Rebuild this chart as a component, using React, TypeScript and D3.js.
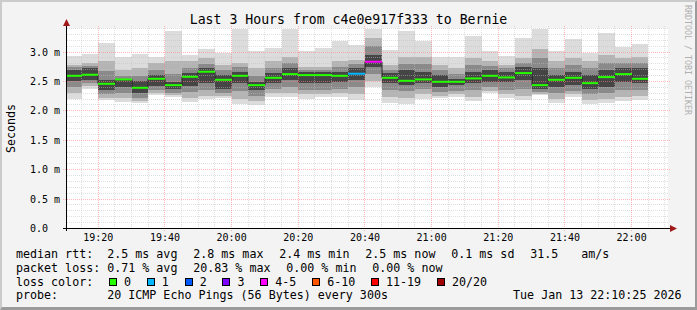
import React from "react";
import * as d3 from "d3";

// ---- data ----
const intervalEnds = ["19:15","19:20","19:25","19:30","19:35","19:40","19:45","19:50","19:55","20:00","20:05","20:10","20:15","20:20","20:25","20:30","20:35","20:40","20:45","20:50","20:55","21:00","21:05","21:10","21:15","21:20","21:25","21:30","21:35","21:40","21:45","21:50","21:55","22:00","22:05"];

// smoke band edges, ms (outer → inner)
const rttMax = [2.93,2.97,3.16,2.92,2.97,2.91,3.35,2.95,3.05,2.99,3.40,3.01,3.07,3.40,3.02,3.07,3.19,3.12,3.40,3.03,3.36,3.18,2.92,2.92,3.27,3.01,2.93,3.23,3.40,3.02,3.22,2.99,3.32,3.08,3.13];
const rttUpper2 = [2.78,2.81,2.84,2.69,2.72,2.81,2.84,2.84,2.89,2.78,2.81,2.72,2.84,2.92,2.75,2.75,2.84,2.86,3.23,2.78,2.92,2.92,2.78,2.72,2.89,2.84,2.78,2.89,3.06,2.84,2.89,2.84,2.95,2.89,2.92];
const rttUpper3 = [2.75,2.77,2.68,2.60,2.60,2.70,2.62,2.72,2.80,2.70,2.74,2.60,2.73,2.82,2.70,2.70,2.75,2.79,3.10,2.70,2.80,2.80,2.70,2.62,2.78,2.77,2.72,2.81,2.90,2.72,2.78,2.72,2.82,2.81,2.82];
const rttUpper4 = [2.70,2.72,2.53,2.55,2.50,2.61,2.49,2.64,2.72,2.61,2.665,2.49,2.64,2.72,2.665,2.665,2.665,2.72,2.95,2.64,2.69,2.665,2.61,2.55,2.665,2.69,2.665,2.75,2.72,2.61,2.665,2.61,2.69,2.72,2.72];
const rttMedian = [2.596,2.614,2.46,2.534,2.392,2.545,2.437,2.579,2.665,2.528,2.596,2.437,2.562,2.625,2.608,2.608,2.596,2.631,2.835,2.562,2.511,2.534,2.494,2.494,2.551,2.596,2.568,2.642,2.437,2.528,2.562,2.471,2.574,2.625,2.545];
const rttLower4 = [2.50,2.53,2.36,2.40,2.30,2.42,2.38,2.43,2.47,2.38,2.47,2.35,2.47,2.52,2.47,2.47,2.49,2.52,2.75,2.47,2.44,2.47,2.41,2.44,2.47,2.49,2.49,2.52,2.38,2.41,2.44,2.38,2.41,2.49,2.47];
const rttLower3 = [2.40,2.47,2.28,2.30,2.22,2.35,2.31,2.32,2.36,2.30,2.34,2.25,2.37,2.40,2.36,2.36,2.38,2.40,2.62,2.36,2.34,2.38,2.32,2.34,2.36,2.40,2.36,2.38,2.32,2.30,2.34,2.28,2.30,2.36,2.36];
const rttLower2 = [2.30,2.42,2.22,2.22,2.17,2.30,2.27,2.22,2.26,2.26,2.20,2.17,2.30,2.30,2.28,2.28,2.30,2.28,2.50,2.24,2.22,2.28,2.26,2.28,2.24,2.34,2.28,2.26,2.29,2.20,2.28,2.18,2.20,2.24,2.26];
const rttMin = [2.20,2.37,2.18,2.15,2.14,2.27,2.24,2.15,2.20,2.22,2.12,2.10,2.24,2.24,2.21,2.24,2.24,2.18,2.41,2.14,2.11,2.20,2.22,2.24,2.16,2.30,2.22,2.18,2.27,2.14,2.24,2.11,2.14,2.16,2.18];
const lossCounts = [0,0,0,0,0,0,0,0,0,0,0,0,0,0,0,0,0,1,4,0,0,0,0,0,0,0,0,0,0,0,0,0,0,0,0];

const lossLabels = ["0","1","2","3","4-5","6-10","11-19","20/20"];
const lossColors = ["#26ff00","#00b8ff","#0059ff","#7e00ff","#ff00ff","#ff5500","#ff0000","#a10000"];
const smokeColors = ["#dcdcdc","#b4b4b4","#8a8a8a","#454545"];

const yTickLabels = ["0.0","0.5 m","1.0 m","1.5 m","2.0 m","2.5 m","3.0 m"];
const yTickValues = [0,0.5,1.0,1.5,2.0,2.5,3.0];

const legendRow1 = ["median rtt:  2.5 ms avg","2.8 ms max","2.4 ms min","2.5 ms now","0.1 ms sd","31.5"," am/s"];
const legendRow2 = ["packet loss: 0.71 % avg","20.83 % max","0.00 % min","0.00 % now"];
const probeText = "probe:       20 ICMP Echo Pings (56 Bytes) every 300s";
const dateText = "Tue Jan 13 22:10:25 2026";
const titleText = "Last 3 Hours from c4e0e917f333 to Bernie";

// ---- layout ----
const W = 697, H = 310;
const PL = 67, PR = 667, PT = 28.5, PB = 228.5;
const MONO = "'DejaVu Sans Mono', monospace";
const LF = 11.66;
const CW = 7.02;
const GAP = 15.8;

function lossIndex(n: number) {
  if (n <= 3) return n;
  if (n <= 5) return 4;
  if (n <= 10) return 5;
  if (n <= 19) return 6;
  return 7;
}
const utc = (h: number, m: number, s = 0) => new Date(Date.UTC(2026, 0, 13, h, m, s));

function layoutRow(items: string[], x0: number) {
  let x = x0;
  return items.map((s) => {
    const r = { s, x };
    x += s.length * CW + GAP;
    return r;
  });
}

export default function App() {
  const x = d3.scaleUtc().domain([utc(19, 10, 37), utc(22, 10, 37)]).range([PL, PR]);
  const y = d3.scaleLinear().domain([0, 3.4]).range([PB, PT]);
  const crisp = (v: number) => Math.round(v - 0.5) + 0.5;

  const cols = intervalEnds.map((s, i) => {
    const [hh, mm] = s.split(":").map(Number);
    const end = utc(hh, mm);
    const start = new Date(end.getTime() - 5 * 60 * 1000);
    const x0 = Math.max(Math.round(x(start)), PL);
    const x1 = Math.round(x(end));
    return { i, x0, x1 };
  });

  const levels = [
    [rttMin, rttMax],
    [rttLower2, rttUpper2],
    [rttLower3, rttUpper3],
    [rttLower4, rttUpper4],
  ];

  const minorT = d3.utcMinute.every(5)!.range(utc(19, 11), utc(22, 11)).filter((t) => t.getUTCMinutes() % 20 !== 0);
  const majorT = d3.utcMinute.every(20)!.range(utc(19, 11), utc(22, 11));
  const minorV = d3.range(1, 35).map((k) => k / 10).filter((v, k) => (k + 1) % 5 !== 0);
  const majorV = [0.5, 1.0, 1.5, 2.0, 2.5, 3.0];
  const fmt = d3.utcFormat("%H:%M");

  const medPts: [number, number][] = [];
  cols.forEach((c) => {
    medPts.push([c.x0, y(rttMedian[c.i])]);
    medPts.push([c.x1, y(rttMedian[c.i])]);
  });
  const medLine = d3.line()(medPts) || "";

  const row1 = layoutRow(legendRow1, 16);
  const row2 = layoutRow(legendRow2, 16);

  const swatches: { label: string; color: string; sx: number; tx: number }[] = [];
  let cx = 16 + "loss color:".length * CW + GAP;
  lossLabels.forEach((l, k) => {
    swatches.push({ label: l, color: lossColors[k], sx: cx, tx: cx + 15 });
    cx = cx + 15 + l.length * CW + GAP;
  });

  const txt = { fontFamily: MONO, fontSize: LF, fill: "#000", whiteSpace: "pre" as const };

  return (
    <svg width={W} height={H} style={{ position: "absolute", left: 0, top: 0, display: "block" }}>
      <rect x={0} y={0} width={W} height={H} fill="#f3f3f3" />
      <polygon points={`0,0 ${W},0 ${W - 2},2 2,2 2,${H - 2} 0,${H}`} fill="#cbcbcb" />
      <polygon points={`${W},0 ${W},${H} 0,${H} 2,${H - 3} ${W - 2},${H - 3} ${W - 2},2`} fill="#9b9b9b" />

      <rect x={PL} y={PT - 0.5} width={PR - PL + 1} height={PB - PT + 0.5} fill="#ffffff" />

      {levels.map(([lo, hi], li) =>
        cols.map((c) => (
          <rect
            key={`s${li}-${c.i}`}
            x={c.x0}
            width={c.x1 - c.x0}
            y={Math.round(y(hi[c.i]))}
            height={Math.max(0, Math.round(y(lo[c.i])) - Math.round(y(hi[c.i])))}
            fill={smokeColors[li]}
            shapeRendering="crispEdges"
          />
        ))
      )}

      <g shapeRendering="crispEdges" strokeDasharray="1,1" strokeWidth={1}>
        {minorV.map((v) => (
          <line key={`hv${v}`} x1={PL} x2={PR + 1} y1={crisp(y(v))} y2={crisp(y(v))} stroke="#c0c0c0" strokeOpacity={0.5} />
        ))}
        {minorT.map((t) => (
          <line key={`vt${+t}`} x1={crisp(x(t))} x2={crisp(x(t))} y1={26} y2={PB} stroke="#c0c0c0" strokeOpacity={0.5} />
        ))}
        {majorV.map((v) => (
          <line key={`HV${v}`} x1={63} x2={PR + 3} y1={crisp(y(v))} y2={crisp(y(v))} stroke="#ff8080" strokeOpacity={0.55} />
        ))}
        {majorT.map((t) => (
          <line key={`VT${+t}`} x1={crisp(x(t))} x2={crisp(x(t))} y1={26} y2={PB + 3} stroke="#ff8080" strokeOpacity={0.55} />
        ))}
      </g>

      <path d={medLine} fill="none" stroke="#202020" strokeWidth={1} />
      {cols.map((c) => (
        <line
          key={`m${c.i}`}
          x1={c.x0}
          x2={c.x1}
          y1={y(rttMedian[c.i])}
          y2={y(rttMedian[c.i])}
          stroke={lossColors[lossIndex(lossCounts[c.i])]}
          strokeWidth={2}
        />
      ))}

      <line x1={62.5} x2={672} y1={PB} y2={PB} stroke="#000" strokeWidth={1} shapeRendering="crispEdges" />
      <line x1={66.5} x2={66.5} y1={231} y2={24} stroke="#000" strokeWidth={1} shapeRendering="crispEdges" />
      <polygon points={`670,${PB - 3.5} 677,${PB} 670,${PB + 3.5}`} fill="#a11a1a" />
      <polygon points={`${66.5 - 3.5},26 66.5,19 ${66.5 + 3.5},26`} fill="#a11a1a" />

      {yTickValues.map((v, k) => (
        <text key={`yl${k}`} x={30} y={y(v) + 3.6} style={{ fontFamily: MONO, fontSize: 10, whiteSpace: "pre" }} fill="#000">
          {yTickLabels[k]}
        </text>
      ))}
      {majorT.map((t) => (
        <text key={`xl${+t}`} x={x(t)} y={240.7} textAnchor="middle" style={{ fontFamily: MONO, fontSize: 10 }} fill="#000">
          {fmt(t)}
        </text>
      ))}

      <text x={348.5} y={24} textAnchor="middle" style={{ fontFamily: MONO, fontSize: 13.2 }} fill="#000">
        {titleText}
      </text>
      <text transform={`translate(14.5,128.5) rotate(-90)`} textAnchor="middle" style={{ fontFamily: MONO, fontSize: LF }} fill="#000">
        Seconds
      </text>
      <text transform={`translate(684.5,5) rotate(90)`} style={{ fontFamily: MONO, fontSize: 8.3 }} fill="#b0b0b0">
        RRDTOOL / TOBI OETIKER
      </text>

      {row1.map((r, k) => (
        <text key={`r1${k}`} x={r.x} y={257.5} style={txt}>{r.s}</text>
      ))}
      {row2.map((r, k) => (
        <text key={`r2${k}`} x={r.x} y={271.5} style={txt}>{r.s}</text>
      ))}
      <text x={16} y={285.5} style={txt}>loss color:</text>
      {swatches.map((s, k) => (
        <g key={`sw${k}`}>
          <rect x={Math.round(s.sx) + 0.5} y={278.5} width={7} height={7} fill={s.color} stroke="#000" strokeWidth={1} shapeRendering="crispEdges" />
          <text x={s.tx} y={285.5} style={txt}>{s.label}</text>
        </g>
      ))}
      <text x={16} y={299} style={txt}>{probeText}</text>
      <text x={681.5} y={299} textAnchor="end" style={txt}>{dateText}</text>
    </svg>
  );
}
